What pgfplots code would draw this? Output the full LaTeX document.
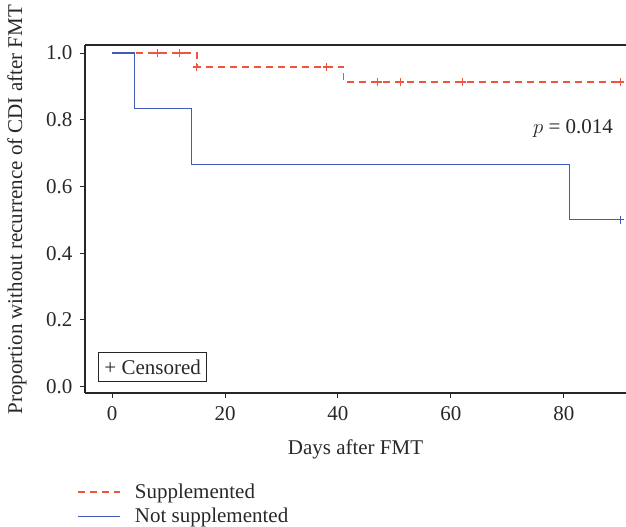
\documentclass[border=0pt]{standalone}
\usepackage{fontspec}
\setmainfont{Liberation Serif}
\usepackage{pgfplots}
\pgfplotsset{compat=1.18}
\definecolor{suppred}{RGB}{238,84,64}
\definecolor{notblue}{RGB}{62,92,184}
\definecolor{txt}{RGB}{40,40,40}

\begin{document}
\begin{tikzpicture}
\begin{axis}[
    at={(0,0)}, anchor=south west,
    scale only axis,
    width=541pt, height=348pt,
    xmin=-4.8, xmax=91,
    ymin=-0.019, ymax=1.024,
    axis y line*=left,
    axis x line*=box,
    xtick pos=bottom, ytick pos=left,
    xtick={0,20,40,60,80},
    ytick={0,0.2,0.4,0.6,0.8,1.0},
    yticklabel style={xshift=-4pt, /pgf/number format/fixed,
      /pgf/number format/fixed zerofill, /pgf/number format/precision=1},
    xticklabel style={yshift=-5pt},
    tick align=outside,
    major tick length=5pt,
    axis line style={line width=1.1pt, black!85},
    every tick/.style={line width=1pt, black!85},
    /pgf/number format/assume math mode=true,
    font=\fontsize{21}{25}\selectfont,
    tick label style={txt},
    label style={txt},
    xlabel={Days after FMT},
    ylabel={Proportion without recurrence of CDI after FMT},
    xlabel style={at={(rel axis cs:0.5,0)}, anchor=center, yshift=-56pt},
    ylabel style={at={(rel axis cs:-0.1257,0.527)}, anchor=center},
    legend style={at={(rel axis cs:-0.02,-0.25)}, anchor=north west, draw=none, fill=none,
      font=\fontsize{21}{25}\selectfont, text=txt, row sep=4pt,
      /tikz/every odd column/.append style={column sep=12pt}},
    legend cell align=left,
    legend image code/.code={\draw[#1] (0pt,0pt) -- (42pt,0pt);},
    clip=false,
]
% survival curves
\addplot[const plot, color=suppred, line width=1.5pt, dash pattern=on 7pt off 5pt] coordinates {
  (0,1.0) (15,0.958) (41,0.913) (90,0.913)
};
\addlegendentry{Supplemented}
\addplot[const plot, color=notblue, line width=1.3pt] coordinates {
  (0,1.0) (4,0.8333) (14,0.6667) (81,0.5) (90,0.5)
};
\addlegendentry{Not supplemented}
% censored observations
\addplot[only marks, mark=+, mark size=4pt, color=suppred, line width=1.2pt, forget plot] coordinates {
  (8,1.0) (12,1.0) (15,0.958) (38,0.958) (47,0.913) (51,0.913) (62,0.913) (90,0.913)
};
\addplot[only marks, mark=+, mark size=4pt, color=notblue, line width=1.2pt, forget plot] coordinates {
  (90,0.5)
};
\node[anchor=east, text=txt, font=\fontsize{21}{25}\selectfont] at (axis cs:89.3,0.775) {$p$ = 0.014};
\node[anchor=west, draw=black!85, line width=1pt, text=txt, inner xsep=6pt, inner ysep=7pt,
      font=\fontsize{21}{25}\selectfont] at (rel axis cs:0.024,0.075) {+ Censored};
\end{axis}
\pgfresetboundingbox
\path (-85pt,-134pt) rectangle (541pt,393pt);
\end{tikzpicture}
\end{document}
